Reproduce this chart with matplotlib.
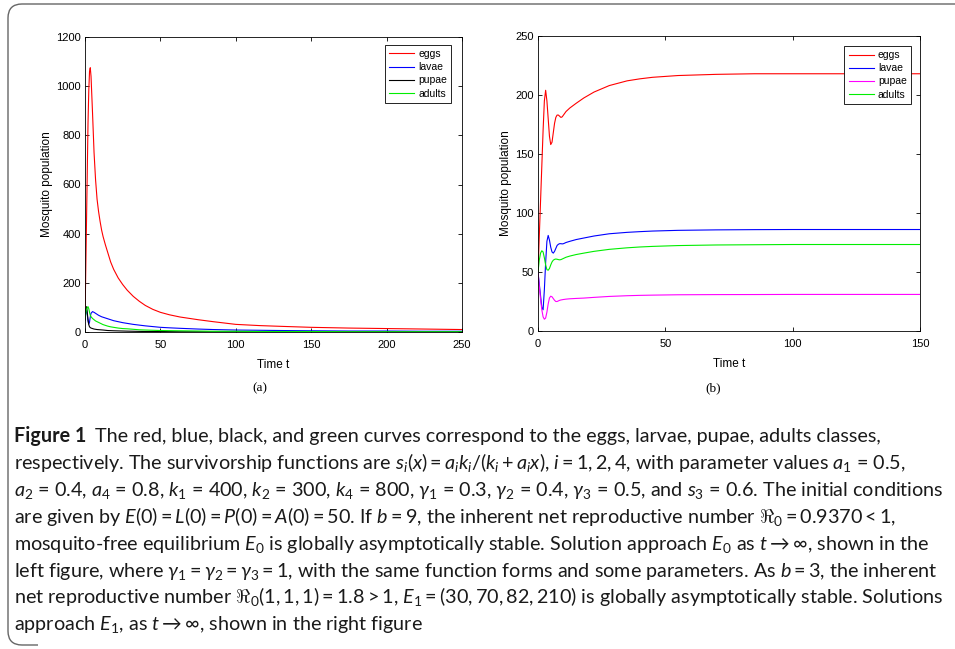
import matplotlib
matplotlib.use("Agg")
import matplotlib.pyplot as plt
from matplotlib.path import Path
from matplotlib.patches import PathPatch

# panel (a): values
t_a = [0, 0.5, 1, 1.5, 2, 2.5, 3, 3.5, 4, 5, 6, 7, 8, 9, 10, 11, 12, 13.5, 15, 17, 19, 22, 25, 28,
       32, 36, 40, 45, 50, 56, 63, 75, 85, 100, 116, 130, 150, 175, 200, 225, 250]
eggs_a = [50, 250, 450, 650, 850, 980, 1060, 1075, 1040, 890, 730, 620, 540, 490, 450, 415, 388, 355,
          325, 285, 255, 220, 193, 170, 145, 125, 108, 92, 80, 70, 61, 50, 42, 31, 26, 23, 19, 16, 14, 12, 10]
lavae_a = [50, 80, 95, 70, 45, 32, 40, 62, 76, 83, 80, 76, 72, 68, 65, 62, 60, 57,
           54, 50, 46, 42, 38, 35, 31, 28, 25, 22, 19, 17, 15, 12, 10, 8, 7, 6, 5, 4, 4, 3, 3]
pupae_a = [50, 90, 103, 80, 50, 30, 21, 18, 16, 14, 12, 11, 10, 9.5, 9, 8.5, 8, 7,
           6, 5.5, 5, 4.5, 4, 3.5, 3, 2.5, 2, 2, 2, 1.5, 1, 1, 1, 1, 1, 0.5, 0.5, 0.5, 0.5, 0.5, 0.5]
adults_a = [50, 75, 92, 100, 103, 95, 80, 68, 62, 55, 50, 45, 42, 39, 36, 33, 30, 27,
            24, 21, 19, 16, 14, 13, 11, 9, 8, 7, 6, 5.5, 5, 4, 3, 3, 2, 2, 2, 1, 1, 1, 1]

# panel (b): values
t_b = [0, 0.5, 1, 1.5, 2, 2.5, 3, 3.5, 4, 4.5, 5, 5.5, 6, 6.5, 7, 7.5, 8, 8.5, 9, 9.5,
       10, 11, 12.5, 15, 18, 22, 28, 35, 40, 45, 55, 70, 85, 100, 125, 150]
eggs_b = [50, 80, 110, 140, 170, 195, 204, 195, 180, 165, 158, 160, 168, 176, 181, 183, 183, 182, 181, 181.5,
          183, 186, 189, 193, 197.5, 202.5, 208, 212, 213.7, 215, 216.5, 217.5, 218, 218, 218, 218]
lavae_b = [50, 40, 30, 20, 18, 35, 58, 76, 81, 77, 71, 67, 66, 67.5, 70, 72.5, 73.5, 74, 74, 73.8,
           74, 75, 76, 77.5, 78.8, 80.5, 82.4, 83.6, 84.2, 84.7, 85.3, 85.7, 85.9, 86, 86, 86]
pupae_b = [50, 38, 27, 18, 12, 10, 11, 16, 23, 28, 29.5, 29, 27.5, 26, 25, 25, 25.5, 26, 26.3, 26.5,
           26.7, 27, 27.3, 27.6, 27.9, 28.5, 29.3, 29.9, 30.2, 30.4, 30.7, 30.85, 30.9, 31, 31, 31]
adults_b = [50, 60, 66, 68, 67, 62, 56, 52, 51.5, 53, 56, 58.5, 60, 60.7, 61, 60.8, 60.5, 60.3, 60.5, 61,
            61.5, 62.5, 63.5, 64.8, 66, 67.5, 69.2, 70.5, 71.2, 71.7, 72.4, 72.9, 73.1, 73.3, 73.3, 73.3]

labels = ["eggs", "lavae", "pupae", "adults"]

W, H = 955, 649
plt.rcParams['font.family'] = ['Liberation Sans', 'DejaVu Sans']
plt.rcParams['mathtext.fontset'] = 'custom'
plt.rcParams['mathtext.rm'] = 'Lato'
plt.rcParams['mathtext.it'] = 'Lato:italic'
plt.rcParams['mathtext.bf'] = 'Lato:bold'

fig = plt.figure(figsize=(W / 100, H / 100), dpi=100)


def box(x0, y0, x1, y1):
    # pixel box (top-left origin) -> figure fraction rect
    return [x0 / W, 1 - y1 / H, (x1 - x0) / W, (y1 - y0) / H]


def panel(rect, t, series, colors, xmax, ymax, xticks, yticks, anchor, tag, tagx):
    ax = fig.add_axes(rect)
    for ys, c, lab in zip(series, colors, labels):
        ax.plot(t, ys, color=c, lw=0.8, label=lab)
    ax.set_xlim(0, xmax)
    ax.set_ylim(0, ymax)
    ax.set_xticks(xticks)
    ax.set_yticks(yticks)
    ax.tick_params(direction='in', top=True, right=True, labelsize=8, length=3, width=0.6)
    ax.tick_params(axis='x', pad=6)
    ax.tick_params(axis='y', pad=3)
    for s in ax.spines.values():
        s.set_linewidth(0.6)
    ax.set_xlabel("Time t", fontsize=8.5, labelpad=6)
    ax.set_ylabel("Mosquito population", fontsize=8.5, labelpad=2.5)
    leg = ax.legend(loc='upper right', bbox_to_anchor=anchor, borderaxespad=0, fontsize=7.5,
                    fancybox=False, edgecolor='black', framealpha=1, handlelength=2.4,
                    handletextpad=0.4, borderpad=0.4, labelspacing=0.3)
    leg.get_frame().set_linewidth(0.6)
    fig.text(tagx / W, 1 - 388 / H, tag, family='Liberation Serif', fontsize=9.5, ha='center', va='center')
    return ax


panel(box(85, 37, 462, 332), t_a, [eggs_a, lavae_a, pupae_a, adults_a],
      ['red', 'blue', 'black', '#00ee00'], 250, 1200,
      [0, 50, 100, 150, 200, 250], [0, 200, 400, 600, 800, 1000, 1200],
      (0.971, 0.973), "(a)", 260)
panel(box(538, 36, 920, 331), t_b, [eggs_b, lavae_b, pupae_b, adults_b],
      ['red', 'blue', 'magenta', '#00ee00'], 150, 250,
      [0, 50, 100, 150], [0, 50, 100, 150, 200, 250],
      (0.976, 0.966), "(b)", 713)

# rounded frame around the figure (left and top edges)
r = 14
x0, y0, y1 = 8, 4, 645
verts = [(W + 5, y0), (x0 + r, y0), (x0, y0), (x0, y0 + r), (x0, y1 - r), (x0, y1), (x0 + r, y1), (x0 + 30, y1)]
codes = [Path.MOVETO, Path.LINETO, Path.CURVE3, Path.CURVE3, Path.LINETO, Path.CURVE3, Path.CURVE3, Path.LINETO]
verts = [(vx / W, 1 - vy / H) for vx, vy in verts]
fig.add_artist(PathPatch(Path(verts, codes), transform=fig.transFigure, fill=False,
                         edgecolor='#666666', lw=1.0))

# caption
cap = dict(family=['Lato', 'DejaVu Sans'], fontsize=14.2, va='baseline', ha='left', color='#1a1a1a')
lines = [
    r"The red, blue, black, and green curves correspond to the eggs, larvae, pupae, adults classes,",
    r"respectively. The survivorship functions are $s_i(x) = a_ik_i/(k_i + a_ix)$, $i = 1, 2, 4$, with parameter values $a_1$ = 0.5,",
    r"$a_2$ = 0.4, $a_4$ = 0.8, $k_1$ = 400, $k_2$ = 300, $k_4$ = 800, $\gamma_1$ = 0.3, $\gamma_2$ = 0.4, $\gamma_3$ = 0.5, and $s_3$ = 0.6. The initial conditions",
    r"are given by $E(0) = L(0) = P(0) = A(0) = 50$. If $b = 9$, the inherent net reproductive number $\Re_0 = 0.9370 < 1$,",
    r"mosquito-free equilibrium $E_0$ is globally asymptotically stable. Solution approach $E_0$ as $t \rightarrow \infty$, shown in the",
    r"left figure, where $\gamma_1 = \gamma_2 = \gamma_3 = 1$, with the same function forms and some parameters. As $b = 3$, the inherent",
    r"net reproductive number $\Re_0(1, 1, 1) = 1.8 > 1$, $E_1 = (30, 70, 82, 210)$ is globally asymptotically stable. Solutions",
    r"approach $E_1$, as $t \rightarrow \infty$, shown in the right figure",
]
x_left = 14
renderer = fig.canvas.get_renderer()
head = fig.text(x_left / W, 1 - 442 / H, "Figure 1", weight='bold', **cap)
hx = head.get_window_extent(renderer).x1
for i, line in enumerate(lines):
    yb = 1 - (442 + 26.9 * i) / H
    xs = (hx + 9) / W if i == 0 else x_left / W
    fig.text(xs, yb, line, **cap)

fig.savefig("out.png", dpi=100)
